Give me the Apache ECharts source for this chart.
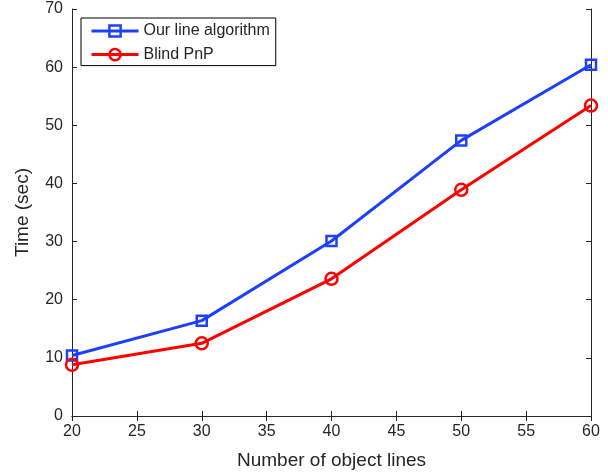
<!DOCTYPE html>
<html><head><meta charset="utf-8">
<script src="https://cdn.jsdelivr.net/npm/echarts@6/dist/echarts.min.js"></script>
<style>html,body{margin:0;padding:0;background:#fff}#c{width:608px;height:475px}</style>
</head><body><div id="c"></div>
<script>
const categories = [20, 30, 40, 50, 60];
const ourLine = [10.4, 16.4, 30.1, 47.4, 60.4];
const blindPnP = [8.8, 12.5, 23.6, 38.9, 53.4];
const seriesNames = ['Our line algorithm', 'Blind PnP'];
const xTitle = 'Number of object lines';
const yTitle = 'Time (sec)';

const txt = '#262626';
const font = 'Liberation Sans, Arial, Helvetica, sans-serif';
const blue = '#1f3fff', red = '#ff0000';
const chart = echarts.init(document.getElementById('c'), null, {renderer: 'canvas'});
const axisCommon = {
  axisLine: {show: true, lineStyle: {color: txt, width: 1}},
  axisTick: {show: true, inside: true, length: 5, lineStyle: {color: txt}},
  splitLine: {show: false}
};
chart.setOption({
  animation: false,
  backgroundColor: '#fff',
  grid: {left: 72, right: 17, top: 9, bottom: 57, containLabel: false},
  legend: {
    show: true, orient: 'vertical', left: 81, top: 18,
    padding: [5, 6, 3, 9], itemGap: 7.6, itemWidth: 47, itemHeight: 14,
    borderColor: '#000', borderWidth: 1, backgroundColor: '#fff',
    lineStyle: {width: 3},
    itemStyle: {borderWidth: 2.5},
    textStyle: {fontFamily: font, fontSize: 16, color: txt},
    data: seriesNames
  },
  xAxis: [
    Object.assign({type: 'value', min: 20, max: 60, interval: 5, position: 'bottom',
      name: xTitle, nameLocation: 'middle', nameGap: 35,
      nameTextStyle: {fontFamily: font, fontSize: 19, color: txt},
      axisLabel: {fontFamily: font, fontSize: 16, color: txt, margin: 8}}, axisCommon),
    Object.assign({type: 'value', min: 20, max: 60, interval: 5, position: 'top',
      axisLabel: {show: false}}, axisCommon)
  ],
  yAxis: [
    Object.assign({type: 'value', min: 0, max: 70, interval: 10, position: 'left',
      name: yTitle, nameLocation: 'middle', nameGap: 40,
      nameTextStyle: {fontFamily: font, fontSize: 19, color: txt},
      axisLabel: {fontFamily: font, fontSize: 16, color: txt, margin: 9}}, axisCommon),
    Object.assign({type: 'value', min: 0, max: 70, interval: 10, position: 'right',
      axisLabel: {show: false}}, axisCommon)
  ],
  series: [
    {
      name: seriesNames[0], type: 'line', xAxisIndex: 0, yAxisIndex: 0,
      data: categories.map((c, i) => [c, ourLine[i]]),
      symbol: 'rect', symbolSize: 10, showAllSymbol: true,
      lineStyle: {color: blue, width: 3},
      itemStyle: {color: 'rgba(255,255,255,0)', borderColor: blue, borderWidth: 2.5},
      z: 3
    },
    {
      name: seriesNames[1], type: 'line', xAxisIndex: 0, yAxisIndex: 0,
      data: categories.map((c, i) => [c, blindPnP[i]]),
      symbol: 'circle', symbolSize: 12, showAllSymbol: true,
      lineStyle: {color: red, width: 3},
      itemStyle: {color: 'rgba(255,255,255,0)', borderColor: red, borderWidth: 2.5},
      z: 4
    }
  ]
});
</script></body></html>
